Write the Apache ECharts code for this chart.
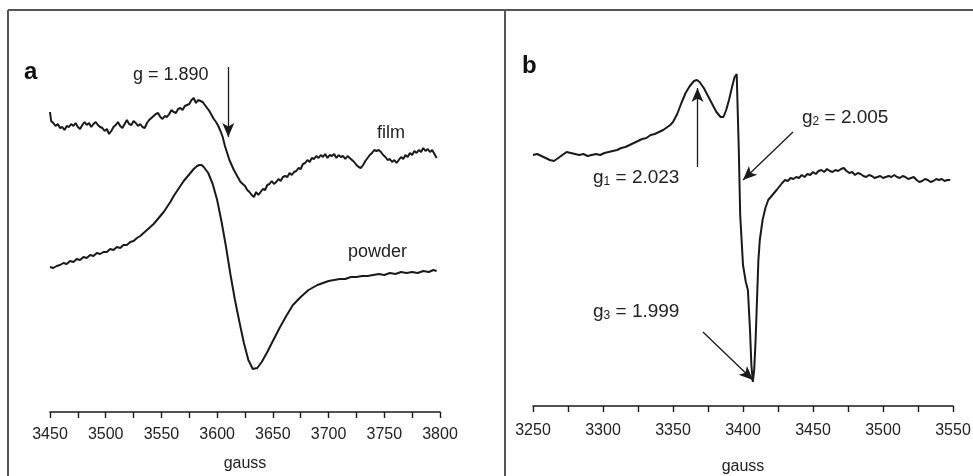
<!DOCTYPE html>
<html>
<head>
<meta charset="utf-8">
<script src="https://cdn.jsdelivr.net/npm/echarts@6/dist/echarts.min.js"></script>
<style>
html,body{margin:0;padding:0;background:#fff;}
#chart{width:973px;height:476px;}
</style>
</head>
<body>
<div id="chart"></div>
<script>
// ---- Data (field in gauss, signal; larger number = lower on the page) ----
const ticksA = [3450, 3500, 3550, 3600, 3650, 3700, 3750, 3800];
const ticksB = [3250, 3300, 3350, 3400, 3450, 3500, 3550];

const film = [
  [3450,112],[3451,121],[3453,123],[3455,126],[3457,124],[3459,128],[3461,127],[3463,130],
  [3465,126],[3467,127],[3469,124],[3471,126],[3473,123],[3475,127],[3477,129],[3479,125],
  [3481,122],[3483,125],[3485,123],[3487,127],[3489,124],[3491,122],[3493,125],[3495,127],
  [3497,128],[3499,131],[3501,129],[3503,134],[3505,131],[3507,127],[3509,125],[3511,122],
  [3513,126],[3515,128],[3517,124],[3519,120],[3521,124],[3523,125],[3525,121],[3527,123],
  [3529,126],[3531,124],[3533,127],[3535,128],[3537,123],[3539,120],[3541,118],[3543,116],
  [3545,114],[3547,113],[3549,117],[3551,119],[3553,116],[3555,117],[3557,114],[3559,110],
  [3561,112],[3563,113],[3565,109],[3567,108],[3569,110],[3571,106],[3573,105],[3575,104],
  [3577,100],[3579,98],[3581,103],[3583,100],[3585,101],[3587,102],[3589,105],[3591,108],
  [3593,111],[3595,115],[3597,119],[3599,122],[3601,126],[3603,131],[3605,137],[3607,146],
  [3609,153],[3611,160],[3613,165],[3615,170],[3617,174],[3619,178],[3621,182],[3623,184],
  [3625,186],[3627,190],[3629,192],[3631,195],[3633,197],[3635,192],[3637,195],[3639,192],
  [3641,189],[3643,190],[3645,185],[3647,184],[3649,181],[3651,184],[3653,182],[3655,179],
  [3657,181],[3659,177],[3661,176],[3663,177],[3665,173],[3667,175],[3669,172],[3671,171],
  [3673,168],[3675,169],[3677,164],[3679,163],[3681,160],[3683,162],[3685,158],[3687,159],
  [3689,156],[3691,158],[3693,155],[3695,157],[3697,154],[3699,158],[3701,155],[3703,156],
  [3705,154],[3707,158],[3709,155],[3711,157],[3713,156],[3715,159],[3717,156],[3719,158],
  [3721,160],[3723,162],[3725,165],[3727,167],[3729,168],[3731,165],[3733,161],[3735,158],
  [3737,155],[3739,153],[3741,150],[3743,151],[3745,150],[3747,152],[3749,155],[3751,157],
  [3753,160],[3755,159],[3757,162],[3759,160],[3761,163],[3763,160],[3765,157],[3767,159],
  [3769,155],[3771,157],[3773,153],[3775,155],[3777,151],[3779,153],[3781,150],[3783,152],
  [3785,148],[3787,151],[3789,149],[3791,152],[3793,150],[3795,154],[3797,158]
];

const powder = [
  [3450,267],[3453,268],[3456,266],[3459,265],[3462,263],[3465,264],[3468,261],[3471,262],
  [3474,259],[3477,260],[3480,257],[3483,258],[3486,255],[3489,256],[3492,253],[3495,254],
  [3498,252],[3501,252],[3504,249],[3507,250],[3510,247],[3513,248],[3516,245],[3519,245],
  [3522,242],[3525,241],[3528,238],[3531,236],[3534,233],[3537,230],[3540,227],[3543,224],
  [3546,220],[3549,216],[3552,212],[3555,207],[3558,202],[3561,196],[3564,191],[3567,186],
  [3570,181],[3573,177],[3576,173],[3579,169],[3582,166],[3584,165],[3586,165],[3588,167],
  [3592,173],[3596,184],[3600,200],[3604,222],[3608,247],[3612,275],[3616,300],[3620,322],
  [3624,343],[3628,360],[3632,369],[3636,368],[3640,362],[3645,352],[3650,341],[3656,328],
  [3662,316],[3668,305],[3675,297],[3682,290],[3690,285],[3695,283],[3700,281],[3705,280],
  [3710,279],[3715,279],[3720,277],[3725,277],[3730,276],[3735,276],[3740,275],[3745,274],
  [3750,275],[3755,273],[3760,274],[3765,272],[3770,273],[3775,272],[3780,273],[3785,271],
  [3790,272],[3794,270],[3797,271]
];

const spectrumB = [
  [3250,155],[3253,154],[3256,156],[3259,158],[3262,160],[3265,161],[3268,158],[3271,155],
  [3274,152],[3277,153],[3280,154],[3283,155],[3286,154],[3289,156],[3292,155],[3295,154],
  [3298,155],[3301,153],[3304,152],[3307,151],[3310,150],[3313,148],[3316,147],[3319,145],
  [3322,143],[3325,141],[3328,139],[3331,138],[3334,135],[3337,134],[3340,132],[3343,130],
  [3346,127],[3348,125],[3350,122],[3353,114],[3356,103],[3359,93],[3362,86],[3365,81],
  [3367,80],[3369,82],[3372,88],[3375,96],[3378,104],[3381,112],[3384,117],[3386,117],
  [3388,110],[3390,100],[3392,88],[3394,77],[3395.5,74],[3397,150],[3398,215],[3400,265],
  [3402,282],[3403.5,290],[3405,330],[3406,365],[3407,382],[3408,370],[3409,340],[3410,300],
  [3411,260],[3412,240],[3414,220],[3416,208],[3418,200],[3421,195],[3424,190],[3428,183],
  [3430,180],[3432,181],[3434,178],[3436,179],[3438,177],[3440,178],[3442,175],[3444,177],
  [3446,174],[3448,175],[3450,172],[3452,174],[3454,171],[3456,170],[3458,172],[3460,169],
  [3462,171],[3464,172],[3466,170],[3468,171],[3470,169],[3472,168],[3474,171],[3476,173],
  [3478,172],[3480,175],[3482,173],[3484,174],[3486,176],[3488,177],[3490,175],[3492,176],
  [3494,178],[3496,177],[3498,176],[3500,178],[3502,177],[3504,176],[3506,177],[3508,175],
  [3510,177],[3512,178],[3514,176],[3516,177],[3518,179],[3520,178],[3522,177],[3524,180],
  [3526,182],[3528,181],[3530,179],[3532,180],[3534,182],[3536,181],[3538,179],[3540,180],
  [3542,179],[3544,181],[3546,180],[3548,180]
];

// arrows: [fromField, fromSignal, toField, toSignal]
const arrowsA = [[3610, 67, 3610, 137]];
const arrowsB = [[3367.5, 167, 3367.5, 88], [3435.7, 132, 3400, 180], [3371.4, 332, 3407.1, 380]];

const chart = echarts.init(document.getElementById('chart'), null, {renderer: 'canvas'});
const FONT = '"Liberation Sans", Arial, Helvetica, sans-serif';
const INK = '#1a1a1a';

function xAxisDef(idx, min, max, ticks, labelMargin, nameGap) {
  return {
    gridIndex: idx, type: 'value', min: min, max: max, interval: 50,
    name: 'gauss', nameLocation: 'middle', nameGap: nameGap,
    nameTextStyle: {fontFamily: FONT, fontSize: 16, color: '#222'},
    axisLine: {show: true, onZero: false, lineStyle: {color: INK, width: 1.6}},
    axisTick: {show: true, length: 6, lineStyle: {color: INK, width: 1.4}},
    minorTick: {show: true, splitNumber: 2, length: 6, lineStyle: {color: INK, width: 1.4}},
    splitLine: {show: false}, minorSplitLine: {show: false},
    axisLabel: {fontFamily: FONT, fontSize: 16, color: '#222', margin: labelMargin,
      formatter: v => ticks.includes(v) ? String(v) : ''}
  };
}
function yAxisDef(idx, min, max) {
  return {gridIndex: idx, type: 'value', min: min, max: max, inverse: true, show: false,
    splitLine: {show: false}};
}
function lineSeries(idx, data, arrows) {
  const s = {
    type: 'line', xAxisIndex: idx, yAxisIndex: idx, data: data, showSymbol: false,
    symbol: 'none', smooth: false, lineStyle: {color: INK, width: 2}, animation: false,
    silent: true
  };
  if (arrows) {
    s.markLine = {
      silent: true, animation: false, symbol: ['none', 'arrow'], symbolSize: [9, 14],
      label: {show: false},
      lineStyle: {color: INK, width: 1.3, type: 'solid'},
      data: arrows.map(a => [{coord: [a[0], a[1]]}, {coord: [a[2], a[3]]}])
    };
  }
  return s;
}

const rich = {
  g: {fontFamily: FONT, fontSize: 19, fill: '#222'},
  s: {fontFamily: FONT, fontSize: 12, fill: '#222', padding: [8, 0, 0, 0]}
};
function txt(x, y, text, size, extra) {
  return Object.assign({type: 'text', x: x, y: y, silent: true,
    style: {text: text, fontFamily: FONT, fontSize: size, fill: '#222',
      textVerticalAlign: 'middle'}}, extra || {});
}
function gtxt(x, y, sub, rest) {
  return {type: 'text', x: x, y: y, silent: true,
    style: {text: '{g|g}{s|' + sub + '}{g| = ' + rest + '}', rich: rich,
      textVerticalAlign: 'middle'}};
}

const option = {
  backgroundColor: '#fff',
  animation: false,
  grid: [
    {left: 50, right: 973 - 440, top: 50, bottom: 476 - 412, containLabel: false, outerBoundsMode: 'none'},
    {left: 533, right: 973 - 953, top: 50, bottom: 476 - 406, containLabel: false, outerBoundsMode: 'none'}
  ],
  xAxis: [xAxisDef(0, 3450, 3800, ticksA, 15, 44), xAxisDef(1, 3250, 3550, ticksB, 17, 53)],
  yAxis: [yAxisDef(0, 50, 412), yAxisDef(1, 50, 406)],
  series: [
    lineSeries(0, film, arrowsA),
    lineSeries(0, powder, null),
    lineSeries(1, spectrumB, arrowsB)
  ],
  graphic: [
    // frame
    {type: 'line', silent: true, shape: {x1: 8, y1: 10, x2: 973, y2: 10}, style: {stroke: '#555', lineWidth: 2}},
    {type: 'line', silent: true, shape: {x1: 8, y1: 10, x2: 8, y2: 476}, style: {stroke: '#555', lineWidth: 2}},
    {type: 'line', silent: true, shape: {x1: 505, y1: 10, x2: 505, y2: 476}, style: {stroke: '#555', lineWidth: 2}},
    // panel letters
    txt(24, 72, 'a', 24, {style: {text: 'a', fontFamily: FONT, fontSize: 24, fontWeight: 'bold', fill: '#111', textVerticalAlign: 'middle'}}),
    txt(522, 66, 'b', 24, {style: {text: 'b', fontFamily: FONT, fontSize: 24, fontWeight: 'bold', fill: '#111', textVerticalAlign: 'middle'}}),
    // annotations panel a
    txt(133, 75, 'g = 1.890', 18),
    txt(377, 133, 'film', 18),
    txt(348, 252, 'powder', 18),
    // annotations panel b
    gtxt(593, 178, '1', '2.023'),
    gtxt(802, 118, '2', '2.005'),
    gtxt(593, 312, '3', '1.999')
  ]
};
chart.setOption(option);
</script>
</body>
</html>
